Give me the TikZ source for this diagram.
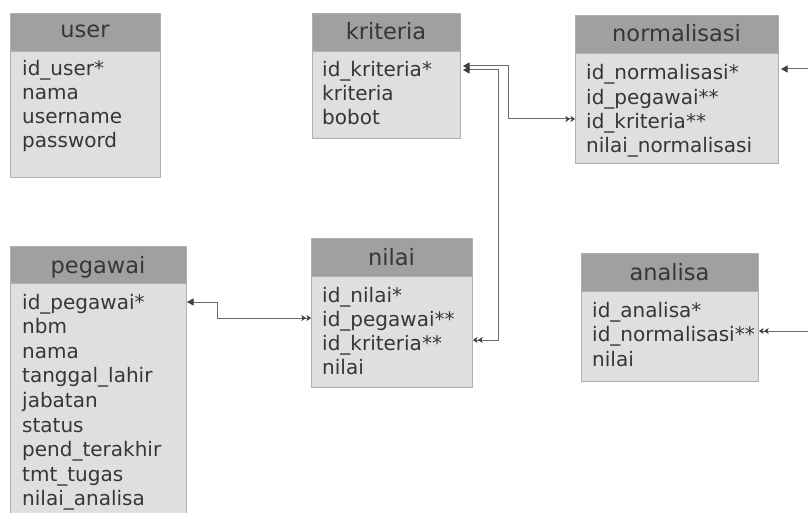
\documentclass[tikz,border=0pt]{standalone}
\usepackage{fontspec}
\setmainfont{DejaVu Sans}
\usetikzlibrary{arrows.meta}
\definecolor{hdrgray}{HTML}{A0A0A0}
\definecolor{bodygray}{HTML}{DFDFDF}
\definecolor{edgegray}{HTML}{B0B0B0}
\definecolor{txtgray}{HTML}{363636}
\definecolor{linegray}{HTML}{6A6A6A}
\definecolor{tipgray}{HTML}{404040}
\tikzset{
  tone/.tip={Triangle[width=7pt,length=6.5pt,color=tipgray]},
  tmany/.tip={Stealth[length=4.5pt,width=6pt,inset=1.2pt,color=tipgray,sep=0.6pt] Stealth[length=4.5pt,width=6pt,inset=1.2pt,color=tipgray]},
}
\begin{document}
\begin{tikzpicture}[x=1pt,y=-1pt,
  tbody/.style={draw=edgegray,fill=bodygray,line width=0.9pt,anchor=north west,inner sep=0pt,outer sep=0pt},
  thead/.style={draw=edgegray,fill=hdrgray,line width=0.9pt,anchor=north west,inner sep=0pt,outer sep=0pt},
  ttitle/.style={anchor=base,text=txtgray,font=\fontsize{22.5}{26}\selectfont,inner sep=0pt},
  tfield/.style={anchor=base west,text=txtgray,font=\fontsize{20}{24}\selectfont,inner sep=0pt},
  conn/.style={draw=linegray,line width=1pt},
]
\useasboundingbox (0,0) rectangle (808,513);
\clip (0,0) rectangle (808,513);
\fill[white] (0,0) rectangle (808,513);

% user
\node[tbody,minimum width=150,minimum height=164] (user) at (10,13) {};
\node[thead,minimum width=150,minimum height=38] (user-h) at (10,13) {};
\node[ttitle] (user-t) at (85,38) {user};
\foreach \t [count=\i] in {id\_user*,nama,username,password}
  \node[tfield] (user-f\i) at (22,{76+24*(\i-1)}) {\t};

% kriteria
\node[tbody,minimum width=148,minimum height=125] (kriteria) at (312,13) {};
\node[thead,minimum width=148,minimum height=38] (kriteria-h) at (312,13) {};
\node[ttitle] (kriteria-t) at (386,40) {kriteria};
\foreach \t [count=\i] in {id\_kriteria*,kriteria,bobot}
  \node[tfield] (kriteria-f\i) at (322,{77+24*(\i-1)}) {\t};

% normalisasi
\node[tbody,minimum width=203,minimum height=148] (normalisasi) at (575,15) {};
\node[thead,minimum width=203,minimum height=38] (normalisasi-h) at (575,15) {};
\node[ttitle] (normalisasi-t) at (676.5,42) {normalisasi};
\foreach \t [count=\i] in {id\_normalisasi*,id\_pegawai**,id\_kriteria**,nilai\_normalisasi}
  \node[tfield] (normalisasi-f\i) at (586,{80+24.3*(\i-1)}) {\t};

% pegawai
\node[tbody,minimum width=176,minimum height=290] (pegawai) at (10,246) {};
\node[thead,minimum width=176,minimum height=37] (pegawai-h) at (10,246) {};
\node[ttitle] (pegawai-t) at (98,273) {pegawai};
\foreach \t [count=\i] in {id\_pegawai*,nbm,nama,tanggal\_lahir,jabatan,status,pend\_terakhir,tmt\_tugas,nilai\_analisa}
  \node[tfield] (pegawai-f\i) at (22,{309+24.6*(\i-1)}) {\t};

% nilai
\node[tbody,minimum width=161,minimum height=149] (nilai) at (311,238) {};
\node[thead,minimum width=161,minimum height=38] (nilai-h) at (311,238) {};
\node[ttitle] (nilai-t) at (391.5,265) {nilai};
\foreach \t [count=\i] in {id\_nilai*,id\_pegawai**,id\_kriteria**,nilai}
  \node[tfield] (nilai-f\i) at (322,{302+24.3*(\i-1)}) {\t};

% analisa
\node[tbody,minimum width=177,minimum height=128] (analisa) at (581,253) {};
\node[thead,minimum width=177,minimum height=38] (analisa-h) at (581,253) {};
\node[ttitle] (analisa-t) at (669.5,280) {analisa};
\foreach \t [count=\i] in {id\_analisa*,id\_normalisasi**,nilai}
  \node[tfield] (analisa-f\i) at (592,{317+24.5*(\i-1)}) {\t};

% connectors
\coordinate (offD) at (812,69);
\coordinate (offE) at (812,331);
\draw[conn,{tone}-{tmany}] ([xshift=3pt]kriteria.east |- 0,66) -- (508,66) |- (normalisasi.west |- 0,119);
\draw[conn,{tone}-{tmany}] ([xshift=3pt]kriteria.east |- 0,70) -- (498,70) |- ([xshift=1pt]nilai.east |- 0,340);
\draw[conn,{tone}-{tmany}] ([xshift=1pt]pegawai.east |- 0,302) -- (217,302) |- (nilai.west |- 0,318);
\draw[conn,-{tone}] (offD) -- ([xshift=3pt]normalisasi.east |- 0,69);
\draw[conn,-{tmany}] (offE) -- ([xshift=1pt]analisa.east |- 0,331);
\end{tikzpicture}
\end{document}
